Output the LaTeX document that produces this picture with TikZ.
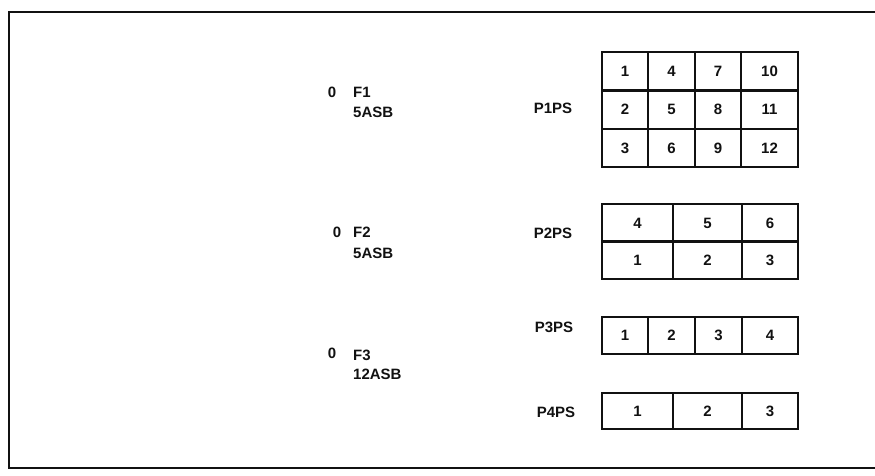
\documentclass[tikz,border=0pt]{standalone}
\usepackage{fontspec}
\setmainfont{Liberation Sans}
\usepackage{tikz}
\usepackage{xcolor}
\usetikzlibrary{positioning}
\definecolor{ink}{HTML}{111111}

\begin{document}
\begin{tikzpicture}[
  x=1pt, y=-1pt,
  every node/.style={font=\fontsize{15}{17}\selectfont\bfseries, text=ink},
  cell/.style={
    rectangle, draw=ink, line width=2pt,
    minimum height=38pt, inner sep=0pt
  },
  lbl/.style={anchor=west, inner sep=0pt},
  frame/.style={draw=ink, line width=1.8pt}
]
\useasboundingbox (0,0) rectangle (875,475);
\draw[frame] (9,12) rectangle (880,468);

% File labels on the left
\node[inner sep=0pt] (zero1) at (332,92) {0};
\node[lbl] (f1)   at (353,92)  {F1};
\node[lbl] (asb1) at (353,112) {5ASB};
\node[inner sep=0pt] (zero2) at (337,232) {0};
\node[lbl] (f2)   at (353,232) {F2};
\node[lbl] (asb2) at (353,253) {5ASB};
\node[inner sep=0pt] (zero3) at (332,353) {0};
\node[lbl] (f3)   at (353,355) {F3};
\node[lbl] (asb3) at (353,374) {12ASB};

% Page set labels
\node (p1ps) at (553,108) {P1PS};
\node (p2ps) at (553,233) {P2PS};
\node (p3ps) at (554,327) {P3PS};
\node (p4ps) at (556,412) {P4PS};

% P1PS grid
\node[cell, minimum width=46pt] (p1a) at (625,71)    {1};
\node[cell, minimum width=47pt] (p1b) at (671.5,71)  {4};
\node[cell, minimum width=46pt] (p1c) at (718,71)    {7};
\node[cell, minimum width=57pt] (p1d) at (769.5,71)  {10};
\node[cell, minimum width=46pt] (p1e) at (625,109.5)   {2};
\node[cell, minimum width=47pt] (p1f) at (671.5,109.5) {5};
\node[cell, minimum width=46pt] (p1g) at (718,109.5)   {8};
\node[cell, minimum width=57pt] (p1h) at (769.5,109.5) {11};
\node[cell, minimum width=46pt] (p1i) at (625,148)   {3};
\node[cell, minimum width=47pt] (p1j) at (671.5,148) {6};
\node[cell, minimum width=46pt] (p1k) at (718,148)   {9};
\node[cell, minimum width=57pt] (p1l) at (769.5,148) {12};

% P2PS grid
\node[cell, minimum width=71pt] (p2a) at (637.5,223) {4};
\node[cell, minimum width=69pt] (p2b) at (707.5,223) {5};
\node[cell, minimum width=56pt] (p2c) at (770,223)   {6};
\node[cell, minimum width=71pt] (p2d) at (637.5,260) {1};
\node[cell, minimum width=69pt] (p2e) at (707.5,260) {2};
\node[cell, minimum width=56pt] (p2f) at (770,260)   {3};

% P3PS row
\node[cell, minimum width=46pt, minimum height=37pt] (p3a) at (625,335.5)   {1};
\node[cell, minimum width=47pt, minimum height=37pt] (p3b) at (671.5,335.5) {2};
\node[cell, minimum width=47pt, minimum height=37pt] (p3c) at (718.5,335.5) {3};
\node[cell, minimum width=56pt, minimum height=37pt] (p3d) at (770,335.5)   {4};

% P4PS row
\node[cell, minimum width=71pt, minimum height=36pt] (p4a) at (637.5,411) {1};
\node[cell, minimum width=69pt, minimum height=36pt] (p4b) at (707.5,411) {2};
\node[cell, minimum width=56pt, minimum height=36pt] (p4c) at (770,411)   {3};

\end{tikzpicture}
\end{document}
